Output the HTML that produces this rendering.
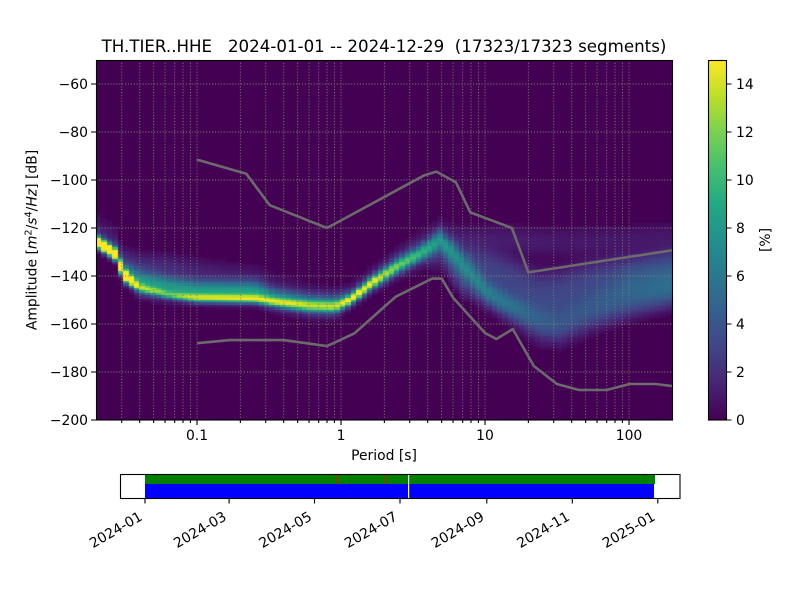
<!DOCTYPE html>
<html><head><meta charset="utf-8">
<style>
html,body{margin:0;padding:0;background:#fff;}
#wrap{position:relative;width:800px;height:600px;overflow:hidden;background:#fff;}
#hm{position:absolute;left:96px;top:60px;}
#ov{position:absolute;left:0;top:0;}
text{font-family:"DejaVu Sans","Liberation Sans",sans-serif;fill:#000;}
</style></head><body>
<div id="wrap">
<canvas id="hm" width="576" height="360"></canvas>
<svg id="ov" width="800" height="600" viewBox="0 0 800 600" xmlns="http://www.w3.org/2000/svg">
<defs>
<clipPath id="ax"><rect x="96" y="60" width="576" height="360"/></clipPath>
<linearGradient id="vir" x1="0" y1="1" x2="0" y2="0">
<stop offset="0" stop-color="#440154"/><stop offset="0.1" stop-color="#482475"/>
<stop offset="0.2" stop-color="#414487"/><stop offset="0.3" stop-color="#355f8d"/>
<stop offset="0.4" stop-color="#2a788e"/><stop offset="0.5" stop-color="#21918c"/>
<stop offset="0.6" stop-color="#22a884"/><stop offset="0.7" stop-color="#44bf70"/>
<stop offset="0.8" stop-color="#7ad151"/><stop offset="0.9" stop-color="#bddf26"/>
<stop offset="1" stop-color="#fde725"/>
</linearGradient>
</defs>
<!-- grid -->
<g clip-path="url(#ax)" stroke="#7a8270" stroke-width="0.9" stroke-dasharray="1.1,1.8" fill="none">
<path d="M121.71 60V420M139.7 60V420M153.65 60V420M165.05 60V420M174.69 60V420M183.04 60V420M190.41 60V420M197 60V420M240.35 60V420M265.71 60V420M283.7 60V420M297.65 60V420M309.05 60V420M318.69 60V420M327.04 60V420M334.41 60V420M341 60V420M384.35 60V420M409.71 60V420M427.7 60V420M441.65 60V420M453.05 60V420M462.69 60V420M471.04 60V420M478.41 60V420M485 60V420M528.35 60V420M553.71 60V420M571.7 60V420M585.65 60V420M597.05 60V420M606.69 60V420M615.04 60V420M622.41 60V420M629 60V420"/>
<path d="M96 84H672M96 132H672M96 180H672M96 228H672M96 276H672M96 324H672M96 372H672"/>
</g>
<!-- noise models -->
<g clip-path="url(#ax)" fill="none" stroke="#6b6b6b" stroke-width="2.6" stroke-linejoin="round">
<polyline points="197,159.6 246.3,173.8 269.7,205.2 327,228 424.5,175.2 436.4,171.6 456,182.4 470.3,212.4 511.9,228 528.4,272.4 708,244.8"/>
<polyline points="197,343.2 230.2,340.1 283.7,340.1 327,346.1 354.5,333.3 395.7,296.7 432.2,278.6 441.7,278.6 453,297.6 485,333 496.4,339 512.8,329.1 533.8,366 556.9,384 579,390 606.7,390 629.6,384 656,384 703,390"/>
</g>
<!-- axes frame -->
<rect x="96.5" y="60.5" width="576" height="359.5" fill="none" stroke="#000" stroke-width="1.1"/>
<!-- ticks -->
<g stroke="#000" stroke-width="1.1">
<path d="M91 84H96M91 132H96M91 180H96M91 228H96M91 276H96M91 324H96M91 372H96M91 420H96"/>
<path d="M197 420V425M341 420V425M485 420V425M629 420V425"/>
<path d="M121.71 420V423M139.7 420V423M153.65 420V423M165.05 420V423M174.69 420V423M183.04 420V423M190.41 420V423M240.35 420V423M265.71 420V423M283.7 420V423M297.65 420V423M309.05 420V423M318.69 420V423M327.04 420V423M334.41 420V423M384.35 420V423M409.71 420V423M427.7 420V423M441.65 420V423M453.05 420V423M462.69 420V423M471.04 420V423M478.41 420V423M528.35 420V423M553.71 420V423M571.7 420V423M585.65 420V423M597.05 420V423M606.69 420V423M615.04 420V423M622.41 420V423"/>
</g>
<g font-size="13.9" text-anchor="end">
<text x="88" y="89">−60</text>
<text x="88" y="137">−80</text>
<text x="88" y="185">−100</text>
<text x="88" y="233">−120</text>
<text x="88" y="281">−140</text>
<text x="88" y="329">−160</text>
<text x="88" y="377">−180</text>
<text x="88" y="425">−200</text>
</g>
<g font-size="13.9" text-anchor="middle">
<text x="197" y="440">0.1</text>
<text x="341" y="440">1</text>
<text x="485" y="440">10</text>
<text x="629" y="440">100</text>
<text x="384" y="460">Period [s]</text>
</g>
<text x="384" y="52" font-size="16.67" text-anchor="middle" style="white-space:pre" xml:space="preserve">TH.TIER..HHE   2024-01-01 -- 2024-12-29  (17323/17323 segments)</text>
<text transform="translate(36.5,240) rotate(-90)" font-size="13.9" text-anchor="middle">Amplitude [<tspan font-style="italic">m</tspan><tspan font-size="9.7" dy="-5">2</tspan><tspan dy="5">/</tspan><tspan font-style="italic">s</tspan><tspan font-size="9.7" dy="-5">4</tspan><tspan dy="5">/</tspan><tspan font-style="italic">Hz</tspan>] [dB]</text>
<!-- colorbar -->
<rect x="708.5" y="60" width="18" height="360" fill="url(#vir)"/>
<rect x="708.5" y="60.5" width="18" height="359.5" fill="none" stroke="#000" stroke-width="1.1"/>
<g stroke="#000" stroke-width="1.1"><path d="M726.5 420H731.5M726.5 372H731.5M726.5 324H731.5M726.5 276H731.5M726.5 228H731.5M726.5 180H731.5M726.5 132H731.5M726.5 84H731.5"/></g>
<g font-size="13.9">
<text x="736" y="425">0</text>
<text x="736" y="377">2</text>
<text x="736" y="329">4</text>
<text x="736" y="281">6</text>
<text x="736" y="233">8</text>
<text x="736" y="185">10</text>
<text x="736" y="137">12</text>
<text x="736" y="89">14</text>
</g>
<text transform="translate(770,240) rotate(-90)" font-size="13.9" text-anchor="middle">[%]</text>
<!-- timeline -->
<rect x="145" y="474.5" width="510" height="9.5" fill="#008000"/>
<rect x="145" y="484" width="509" height="14" fill="#0000ff"/>
<rect x="336.5" y="474.5" width="1" height="9.5" fill="#ff0000"/>
<rect x="385.5" y="474.5" width="1" height="9.5" fill="#ff0000"/>
<rect x="408" y="474.5" width="1.2" height="23.5" fill="#ffffff"/>
<rect x="120.5" y="474.5" width="559.5" height="24" fill="none" stroke="#000" stroke-width="1.1"/>
<g stroke="#000" stroke-width="1.1"><path d="M145 498.5V503.5M229.1 498.5V503.5M314.5 498.5V503.5M400 498.5V503.5M486.8 498.5V503.5M572.3 498.5V503.5M657.8 498.5V503.5"/></g>
<g font-size="13.9" text-anchor="end">
<text transform="translate(143.3,519.3) rotate(-30)">2024-01</text>
<text transform="translate(227.4,519.3) rotate(-30)">2024-03</text>
<text transform="translate(312.8,519.3) rotate(-30)">2024-05</text>
<text transform="translate(398.3,519.3) rotate(-30)">2024-07</text>
<text transform="translate(485.1,519.3) rotate(-30)">2024-09</text>
<text transform="translate(570.6,519.3) rotate(-30)">2024-11</text>
<text transform="translate(656.1,519.3) rotate(-30)">2025-01</text>
</g>
</svg>
</div>
<script>
(function(){
var cv=document.getElementById('hm');var ctx=cv.getContext('2d');
var W=576,H=360;
var img=ctx.createImageData(W,H);var d=img.data;
var V=[[68,1,84],[72,36,117],[65,68,135],[53,95,141],[42,120,142],[33,145,140],[34,168,132],[68,191,112],[122,209,81],[189,223,38],[253,231,37]];
// x, c1,s1,a1, c2,s2,a2,e2, c3,s3,a3
var K=[
[96,241,4,22, 236,7,2,2, 222,8,0.6],
[118,256,4,22, 250,7,2,2, 236,8,0.6],
[120,266,4.5,20, 262,7,3,2, 250,8,0.8],
[126,277,4,18, 272,7,6,2, 258,8,1.2],
[140,288,3,8, 282,8,8,2, 264,8,1.6],
[170,295,2.5,7, 287,7.5,8,2, 266,8,1.6],
[195,298,3,10, 290,7,8,2, 270,8,1.3],
[255,299,3,11, 291,7,8,2, 276,8,0.8],
[275,302,3,9, 298,7,7,2, 282,8,0.6],
[310,306,3.5,7, 304,7,7,2, 290,8,0.4],
[335,307,3.5,7, 305,7,7,2, 294,8,0.3],
[350,300,3.5,12, 298,6,4,2, 290,8,0.3],
[372,283,4,12, 282,7,3,2, 278,10,0.3],
[395,268,4.5,9, 266,8,3,2, 262,10,0.4],
[420,254,5,7, 252,9,2.5,2, 248,12,0.6],
[440,240,7,5, 248,12,2.5,2, 238,12,1.0],
[460,262,9,4.5, 270,20,2.8,4, 240,10,1.2],
[490,295,8,3.5, 280,24,3,4, 240,10,1.2],
[510,306,8,3, 290,27,3,4, 240,10,1.2],
[540,320,10,1.5, 307,29,3.1,4, 242,10,1.1],
[560,325,10,1, 307,30,3.2,4, 242,10,1.0],
[590,310,12,1, 296,28,3.2,4, 242,10,1.0],
[630,290,14,1.5, 287,25,3.4,4, 240,10,1.0],
[672,285,14,2, 278,23,3.5,4, 238,10,1.0]
];
function P(x){
 if(x<=K[0][0])return K[0].slice(1);
 for(var i=1;i<K.length;i++){
  if(x<=K[i][0]){var a=K[i-1],b=K[i],t=(x-a[0])/(b[0]-a[0]);var r=[];
   for(var j=1;j<a.length;j++)r.push(a[j]+(b[j]-a[j])*t);return r;}
 }
 return K[K.length-1].slice(1);
}
var bw=144*Math.log(2)/Math.LN10/8;
var bh=2.4;
for(var px=0;px<W;px++){
 var X=96+px+0.5;
 var bi=Math.floor((X-96)/bw);var xc=96+(bi+0.5)*bw;
 var p=P(xc);
 for(var py=0;py<H;py++){
  var Y=60+py+0.5;var bj=Math.floor((Y-60)/bh);var yc=60+(bj+0.5)*bh;
  var z1=(yc-p[0])/p[1];
  var v=p[2]*Math.exp(-0.5*z1*z1);
  var z2=Math.abs((yc-p[3])/p[4]);
  v+=p[5]*Math.exp(-0.5*Math.pow(z2,p[6]));
  var z3=(yc-p[7])/p[8];
  v+=p[9]*Math.exp(-0.5*z3*z3);
  if(v<0.3)v=0;
  var t=Math.min(1,v/15);var f=t*10;var i=Math.min(9,Math.floor(f));var r=f-i;var A=V[i],B=V[i+1];
  var o=(py*W+px)*4;
  d[o]=Math.round(A[0]+(B[0]-A[0])*r);
  d[o+1]=Math.round(A[1]+(B[1]-A[1])*r);
  d[o+2]=Math.round(A[2]+(B[2]-A[2])*r);
  d[o+3]=255;
 }
}
ctx.putImageData(img,0,0);
})();
</script>
</body></html>
